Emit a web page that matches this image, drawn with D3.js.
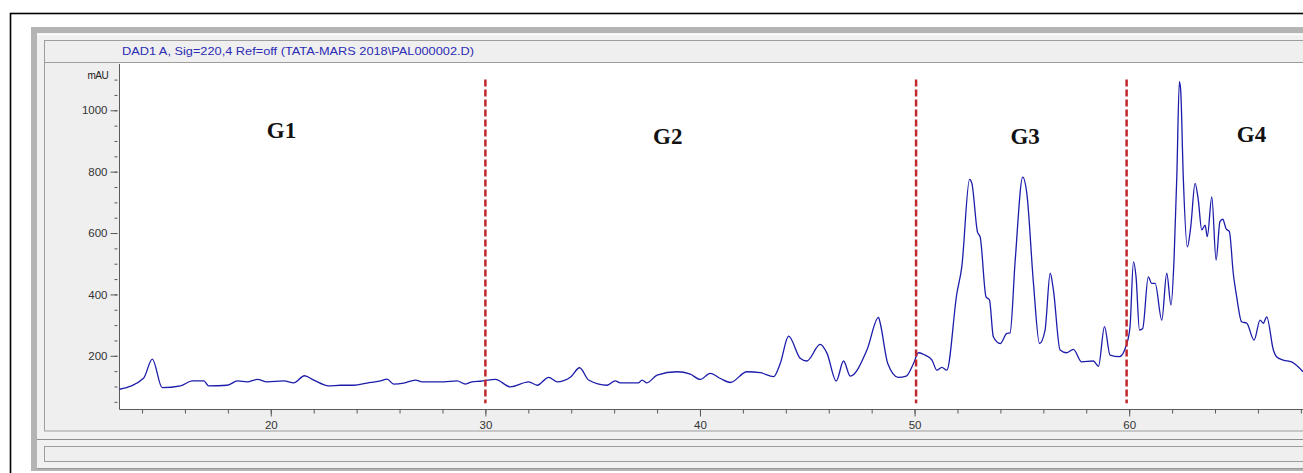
<!DOCTYPE html>
<html>
<head>
<meta charset="utf-8">
<script src="https://cdn.jsdelivr.net/npm/d3@7"></script>
<style>
  html, body { margin: 0; padding: 0; background: #fff; }
  svg { display: block; font-family: "Liberation Sans", Arial, sans-serif; }
</style>
</head>
<body>
<svg id="chart" width="1303" height="473"></svg>
<script>
var title = 'DAD1 A, Sig=220,4 Ref=off (TATA-MARS 2018\\PAL000002.D)';
var yUnit = 'mAU';

// retention time (min) and detector signal (mAU)
var retentionTime = [
  12.95, 14.07, 14.48, 14.94, 15.79, 16.34, 16.88, 17.10, 17.97, 18.45,
  18.90, 19.37, 19.83, 20.61, 21.07, 21.57, 22.00, 22.70, 23.25, 23.87,
  24.49, 25.11, 25.42, 25.73, 26.19, 26.74, 27.05, 28.06, 28.68, 29.07,
  29.38, 29.77, 30.47, 31.16, 32.02, 32.41, 32.95, 33.34, 33.96, 34.39,
  34.81, 35.67, 36.05, 36.29, 37.14, 37.30, 37.53, 38.00, 38.93, 39.55,
  40.01, 40.48, 40.95, 41.41, 42.19, 42.81, 43.43, 43.74, 44.13, 44.67,
  44.98, 45.60, 45.92, 46.35, 46.69, 47.00, 47.78, 48.32, 48.40, 48.75,
  49.24, 49.61, 49.95, 50.18, 50.41, 50.81, 51.04, 51.27, 51.50, 51.97,
  52.20, 52.56, 52.67, 52.93, 53.06, 53.33, 53.49, 53.67, 53.99, 54.30,
  54.45, 54.69, 55.04, 55.23, 55.54, 55.82, 56.08, 56.32, 56.47, 56.78,
  57.09, 57.40, 57.79, 58.33, 58.57, 58.85, 59.11, 59.54, 59.89, 60.04,
  60.20, 60.32, 60.48, 60.63, 60.89, 61.05, 61.21, 61.52, 61.75, 61.95,
  62.09, 62.22, 62.34, 62.40, 62.52, 62.71, 62.87, 63.07, 63.22, 63.38,
  63.54, 63.64, 63.85, 64.05, 64.23, 64.36, 64.51, 64.67, 64.85, 65.01,
  65.24, 65.48, 65.82, 66.10, 66.25, 66.41, 66.72, 66.87, 67.18, 67.57,
  68.10
];
var signal = [
  91, 127, 189, 96, 102, 118, 118, 102, 104, 118,
  115, 123, 115, 118, 112, 135, 121, 102, 104, 104,
  111, 118, 124, 108, 111, 121, 115, 115, 118, 108,
  115, 117, 123, 99, 115, 104, 130, 115, 130, 161,
  121, 104, 118, 112, 112, 121, 112, 137, 148, 140,
  123, 143, 126, 113, 148, 145, 132, 175, 264, 192,
  183, 237, 208, 118, 183, 134, 219, 325, 306, 175,
  130, 134, 175, 210, 205, 186, 153, 162, 153, 403,
  490, 775, 762, 604, 586, 392, 382, 262, 240, 273,
  275, 512, 782, 729, 436, 240, 284, 469, 414, 219,
  210, 221, 180, 183, 166, 295, 202, 197, 240, 295,
  506, 457, 284, 289, 457, 436, 436, 316, 469, 365,
  512, 784, 1093, 1066, 784, 555, 621, 762, 708, 610,
  626, 588, 718, 512, 637, 645, 615, 604, 469, 392,
  311, 306, 251, 316, 306, 327, 219, 197, 186, 180,
  148
];

var groupNames = ['G1', 'G2', 'G3', 'G4'];
var groupLabelTime = [20.5, 38.5, 55.15, 65.7];
var groupLabelLevel = [910, 890, 890, 897];
var groupBoundaries = [30, 50.07, 59.88];

var xMajorTicks = [20, 30, 40, 50, 60];
var yMajorTicks = [200, 400, 600, 800, 1000];

var W = 1303, H = 473;
var svg = d3.select('#chart');

// --- window chrome (ChemStation style) ---
svg.append('rect').attr('width', W).attr('height', H).attr('fill', '#fff');
svg.append('rect')
    .attr('x', 10.5).attr('y', 13.5).attr('width', W).attr('height', H)
    .attr('fill', '#fff').attr('stroke', '#000').attr('stroke-width', 1.6);
svg.append('rect')
    .attr('x', 31).attr('y', 27).attr('width', W).attr('height', 444)
    .attr('fill', '#b4b4b4');
svg.append('rect')
    .attr('x', 37).attr('y', 33).attr('width', W).attr('height', 435)
    .attr('fill', '#f1f1f1');
svg.append('line')
    .attr('x1', 37).attr('x2', W).attr('y1', 34.5).attr('y2', 34.5)
    .attr('stroke', '#fff');
svg.append('line')
    .attr('x1', 37).attr('x2', W).attr('y1', 468.5).attr('y2', 468.5)
    .attr('stroke', '#9a9a9a');

// main panel + title strip
svg.append('rect')
    .attr('x', 44.5).attr('y', 40.5).attr('width', W).attr('height', 390.5)
    .attr('fill', '#efefef').attr('stroke', '#9d9d9d');
svg.append('line')
    .attr('x1', 44.5).attr('x2', W).attr('y1', 62.5).attr('y2', 62.5)
    .attr('stroke', '#9d9d9d');
svg.append('line')
    .attr('x1', 37).attr('x2', W).attr('y1', 439.5).attr('y2', 439.5)
    .attr('stroke', '#8e8e8e');
svg.append('rect')
    .attr('x', 44.5).attr('y', 446.5).attr('width', W).attr('height', 15)
    .attr('fill', '#efefef').attr('stroke', '#9d9d9d');

svg.append('text')
    .attr('x', 122).attr('y', 54.5)
    .attr('font-size', 11)
    .attr('textLength', 352)
    .attr('lengthAdjust', 'spacingAndGlyphs')
    .attr('fill', '#2c2cb4')
    .text(title);

// --- scales ---
var x = d3.scaleLinear().domain([12.95, 68.1]).range([119.5, W]);
var y = d3.scaleLinear().domain([25, 1100]).range([409.5, 79.6]);

// plot area
svg.append('rect')
    .attr('x', 119.5).attr('y', 63).attr('width', W - 119.5).attr('height', 346.5)
    .attr('fill', '#fff');

// --- axes ---
var axisColor = '#5a5a5a';

var yMinor = svg.append('g')
    .attr('transform', 'translate(117.5,0)')
    .call(d3.axisLeft(y).tickValues(d3.range(50, 1101, 50)).tickSize(3).tickFormat(''));
var yMajor = svg.append('g')
    .attr('transform', 'translate(117.5,0)')
    .call(d3.axisLeft(y).tickValues(yMajorTicks).tickSize(7).tickPadding(3)
        .tickFormat(d3.format('d')));

var xMinor = svg.append('g')
    .attr('transform', 'translate(0,409.5)')
    .call(d3.axisBottom(x).tickValues(d3.range(14, 69, 2)).tickSize(4).tickFormat(''));
var xMajor = svg.append('g')
    .attr('transform', 'translate(0,409.5)')
    .call(d3.axisBottom(x).tickValues(xMajorTicks).tickSize(7).tickPadding(4)
        .tickFormat(d3.format('d')));

[yMinor, yMajor, xMinor, xMajor].forEach(function(g) {
    g.select('.domain').remove();
    g.selectAll('line').attr('stroke', axisColor);
    g.selectAll('text')
        .attr('font-family', '"Liberation Sans", Arial, sans-serif')
        .attr('font-size', 11.5)
        .attr('fill', '#333');
});

svg.append('line')
    .attr('x1', 119.5).attr('x2', 119.5).attr('y1', 64).attr('y2', 409.5)
    .attr('stroke', axisColor);
svg.append('line')
    .attr('x1', 119.5).attr('x2', W).attr('y1', 409.5).attr('y2', 409.5)
    .attr('stroke', axisColor);

svg.append('text')
    .attr('x', 108).attr('y', y(1100) - 1)
    .attr('text-anchor', 'end')
    .attr('font-size', 10)
    .attr('letter-spacing', -0.6)
    .attr('fill', '#222')
    .text(yUnit);

// --- chromatogram trace ---
var points = retentionTime.map(function(t, i) { return [t, signal[i]]; });

var line = d3.line()
    .x(function(d) { return x(d[0]); })
    .y(function(d) { return y(d[1]); })
    .curve(d3.curveMonotoneX);

svg.append('path')
    .datum(points)
    .attr('d', line)
    .attr('fill', 'none')
    .attr('stroke', '#1c1caa')
    .attr('stroke-width', 1.3)
    .attr('stroke-linejoin', 'round');

// --- group boundaries ---
svg.selectAll('.boundary')
    .data(groupBoundaries)
    .enter().append('line')
    .attr('class', 'boundary')
    .attr('x1', function(d) { return x(d); })
    .attr('x2', function(d) { return x(d); })
    .attr('y1', y(1100))
    .attr('y2', y(45))
    .attr('stroke', '#c0282d')
    .attr('stroke-width', 2.5)
    .attr('stroke-dasharray', '7,3');

svg.selectAll('.group-label')
    .data(groupNames)
    .enter().append('text')
    .attr('class', 'group-label')
    .attr('x', function(d, i) { return x(groupLabelTime[i]); })
    .attr('y', function(d, i) { return y(groupLabelLevel[i]); })
    .attr('text-anchor', 'middle')
    .attr('font-family', '"Liberation Serif", "Times New Roman", serif')
    .attr('font-weight', 'bold')
    .attr('font-size', 23)
    .attr('fill', '#111')
    .text(function(d) { return d; });
</script>
</body>
</html>
